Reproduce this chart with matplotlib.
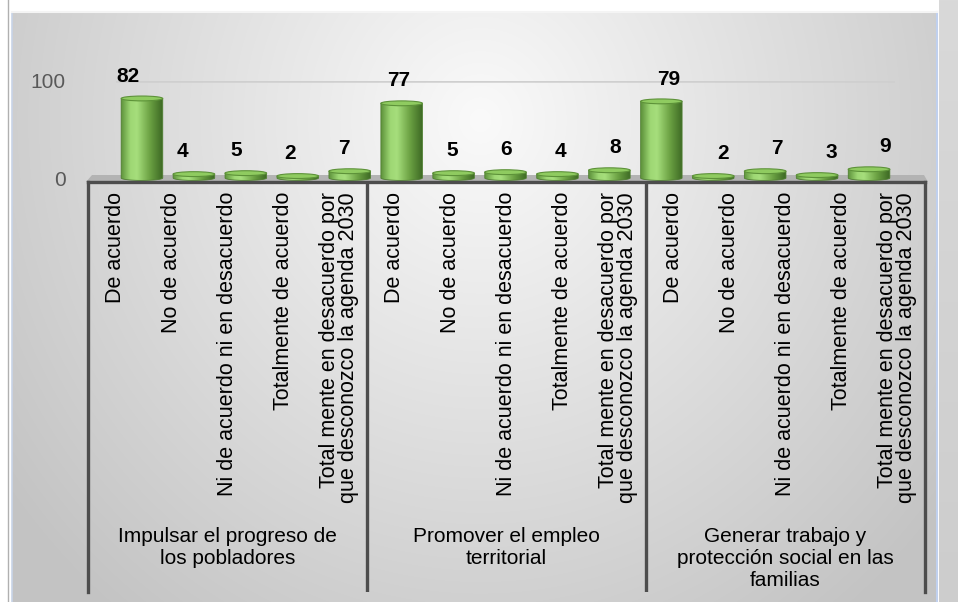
import numpy as np
import matplotlib
matplotlib.use("Agg")
import matplotlib.pyplot as plt
from matplotlib.patches import PathPatch, Ellipse, Polygon
from matplotlib.path import Path
from matplotlib.colors import LinearSegmentedColormap

# ---------------- data ----------------
categories = [
    "De acuerdo", "No de acuerdo", "Ni de acuerdo ni en desacuerdo",
    "Totalmente de acuerdo",
    "Total mente en desacuerdo por\nque desconozco la agenda 2030",
] * 3
groups = [
    "Impulsar el progreso de\nlos pobladores",
    "Promover el empleo\nterritorial",
    "Generar trabajo y\nprotección social en las\nfamilias",
]
values = [82, 4, 5, 2, 7, 77, 5, 6, 4, 8, 79, 2, 7, 3, 9]
yticks = [0, 100]

plt.rcParams['font.family'] = ['Liberation Sans', 'DejaVu Sans']

W, H = 958, 602
fig = plt.figure(figsize=(W / 100, H / 100), dpi=100)

# ---------------- background ----------------
axbg = fig.add_axes([0, 0, 1, 1], zorder=0)
axbg.set_xlim(0, W)
axbg.set_ylim(H, 0)
axbg.axis('off')
yy, xx = np.mgrid[0:H, 0:W]
t = np.sqrt(((xx - 480) / 560.0) ** 2 + ((yy - 120) / 600.0) ** 2)
g = np.clip(250 - 52 * t, 195, 250)
img = np.ones((H, W, 3)) * 255
mask = (xx >= 12) & (xx <= 937) & (yy >= 12)
for c in range(3):
    img[..., c] = np.where(mask, g, 255)
right = (xx > 938) & (yy >= 0)
rg = 205 + 12 * (1 - yy / H)
for c in range(3):
    img[..., c] = np.where(right, rg, img[..., c])
axbg.imshow(img.astype(np.uint8), extent=[0, W, H, 0], aspect='auto', interpolation='bilinear')
axbg.plot([8, 8], [0, H], color='#b0b0b0', lw=1)
axbg.plot([12, 12], [12, H], color='#c8d4e8', lw=1.2)
axbg.plot([937.5, 937.5], [12, H], color='#c0d0ee', lw=1.5)
axbg.plot([12, 937], [12, 12], color='#f4f4f4', lw=1.5)
# 3D floor band
axbg.add_patch(Polygon([(86, 182), (928, 182), (924, 175), (92, 175)],
                       closed=True, facecolor='#b3b3b3', edgecolor='none'))

# ---------------- category axis ----------------
ax2 = fig.add_axes([88 / W, (H - 592) / H, (925 - 88) / W, (592 - 182) / H], zorder=1)
ax2.patch.set_alpha(0)
ax2.set_xlim(-0.5, len(categories) - 0.5)
ax2.set_ylim(0, 1)
ax2.set_xticks([])
ax2.set_yticks([])
ax2.spines['bottom'].set_visible(False)
for s in ['left', 'right', 'top']:
    ax2.spines[s].set_color('#4d4d4d')
    ax2.spines[s].set_linewidth(2.4)
for xs in [4.5, 9.5]:
    ax2.axvline(xs, color='#4d4d4d', lw=2.4)
ax_h = 592 - 182
for i, lab in enumerate(categories):
    ax2.text(i, 1 - 10 / ax_h, lab, rotation=90, ha='center', va='top',
             multialignment='right', fontsize=15.5, linespacing=0.92, color='#000000')
for k, gl in enumerate(groups):
    ax2.text(5 * k + 2, 1 - (527 - 182) / ax_h, gl, ha='center', va='top',
             fontsize=15, linespacing=1.2, color='#000000')

# ---------------- bars (3D-looking cylinders) ----------------
px_per_unit = 0.97
y0_px = 178
ymin = -10
bottom_px = y0_px - ymin * px_per_unit
top_px = y0_px - 100 * px_per_unit
ax = fig.add_axes([116 / W, (H - bottom_px) / H, (895 - 116) / W, (bottom_px - top_px) / H], zorder=2)
ax.patch.set_alpha(0)
for s in ax.spines.values():
    s.set_visible(False)
ax.set_xticks([])

ax.axhline(100, color='#cfcfcf', lw=1.8, zorder=1)

cmap = LinearSegmentedColormap.from_list('cyl', [
    (0.0, '#5f943c'), (0.22, '#9ed874'), (0.38, '#a6de7c'),
    (0.7, '#6aa042'), (1.0, '#3d6924')])
grad = cmap(np.linspace(0, 1, 64))[None, :, :3]

w = 0.8
eh = 5.0
n = len(values)
for i, v in enumerate(values):
    a = w / 2
    b = eh / 2
    tt = np.linspace(np.pi, 2 * np.pi, 40)
    verts = list(zip(i + a * np.cos(tt), b * np.sin(tt)))
    verts += [(i + a, v), (i - a, v), (i - a, 0)]
    path = Path(verts + [verts[0]], [Path.MOVETO] + [Path.LINETO] * (len(verts) - 1) + [Path.CLOSEPOLY])
    pp = PathPatch(path, facecolor='none', edgecolor='#4f7f31', lw=0.6, zorder=3)
    ax.add_patch(pp)
    im = ax.imshow(grad, extent=[i - a, i + a, -b, v], aspect='auto',
                   interpolation='bilinear', zorder=2)
    im.set_clip_path(pp)
    ax.add_patch(Ellipse((i, v), w, eh, facecolor='#8fcb60', edgecolor='#5d9239',
                         lw=0.8, zorder=4))
    lx = i + (-0.27 + 0.58 * i / (n - 1))
    ax.text(lx, v + 23, str(v), ha='center', va='center', fontsize=15,
            fontweight='bold', color='#000000', zorder=5, clip_on=False)

ax.set_xlim(-0.5, n - 0.5)
ax.set_ylim(ymin, 100)
ax.set_yticks(yticks)
ax.set_yticklabels([str(v) for v in yticks])
ax.tick_params(axis='y', length=0, pad=36, labelsize=15, labelcolor='#595959')

fig.savefig('out.png', dpi=100)
